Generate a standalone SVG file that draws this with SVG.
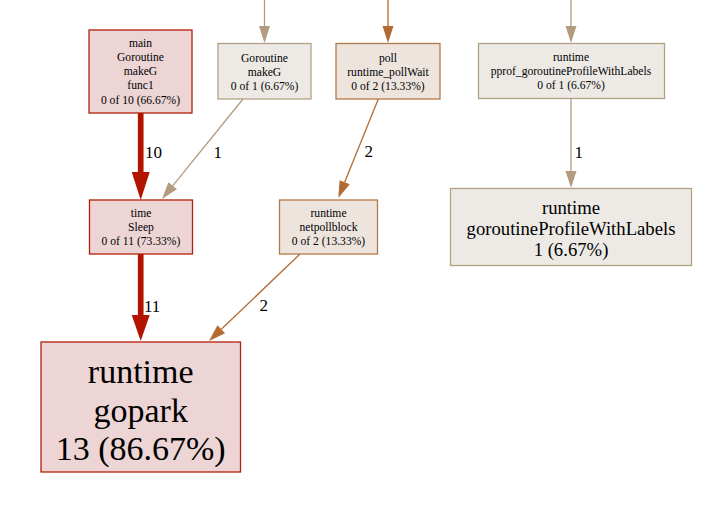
<svg xmlns="http://www.w3.org/2000/svg" width="703" height="513" viewBox="0 0 703 513">
<style>
  text { font-family: "Liberation Serif", "Times New Roman", serif; fill: #000; }
  .n text { text-anchor: middle; }
  .s { font-size: 11.6px; }
  .m { font-size: 18.7px; }
  .l { font-size: 34px; }
  .red rect { fill: #edd5d5; stroke: #b21f0a; stroke-width: 1.3; }
  .tan rect { fill: #edeae6; stroke: #b2a084; stroke-width: 1.3; }
  .org rect { fill: #ede4de; stroke: #b27848; stroke-width: 1.3; }
  .e-red { stroke: #b21400; fill: none; }
  .h-red { fill: #b21400; }
  .e-tan { stroke: #b29b7e; fill: none; stroke-width: 1.3; }
  .h-tan { fill: #b29b7e; }
  .e-org { stroke: #b26c33; fill: none; stroke-width: 1.3; }
  .h-org { fill: #b26c33; }
  .lbl { font-size: 17px; }
</style>
<rect width="703" height="513" fill="#ffffff"/>
<g id="connectors">
  <!-- incoming from top -->
  <line class="e-tan" x1="264.5" y1="0" x2="264.5" y2="27"/>
  <polygon class="h-tan" points="259,26 270,26 264.5,43"/>
  <line class="e-org" x1="388" y1="0" x2="388" y2="27"/>
  <polygon class="h-org" points="382.5,26 393.5,26 388,43"/>
  <line class="e-tan" x1="571" y1="0" x2="571" y2="27"/>
  <polygon class="h-tan" points="565.5,26 576.5,26 571,43"/>
  <!-- main -> Sleep -->
  <line class="e-red" x1="140.7" y1="113" x2="140.7" y2="173" stroke-width="5.7"/>
  <polygon class="h-red" points="131.7,172 149.7,172 140.7,200"/>
  <text class="lbl" x="145" y="157.5">10</text>
  <!-- Goroutine makeG -> Sleep -->
  <line class="e-tan" x1="243" y1="99" x2="172.7" y2="185.8"/>
  <polygon class="h-tan" points="176.97,189.26 168.43,182.34 162,199"/>
  <text class="lbl" x="213.5" y="157.5">1</text>
  <!-- poll -> netpollblock -->
  <line class="e-org" x1="378.3" y1="99" x2="344.67" y2="182.24"/>
  <polygon class="h-org" points="349.77,184.3 339.57,180.18 338.3,198"/>
  <text class="lbl" x="364.5" y="157">2</text>
  <!-- Sleep -> gopark -->
  <line class="e-red" x1="140.7" y1="254" x2="140.7" y2="316" stroke-width="5.7"/>
  <polygon class="h-red" points="131.7,315 149.7,315 140.7,341"/>
  <text class="lbl" x="144" y="311.5">11</text>
  <!-- netpollblock -> gopark -->
  <line class="e-org" x1="300" y1="254" x2="221.29" y2="329.25"/>
  <polygon class="h-org" points="225.09,333.23 217.49,325.27 209,341"/>
  <text class="lbl" x="259.5" y="311">2</text>
  <!-- pprof -> goroutineProfileWithLabels -->
  <line class="e-tan" x1="571" y1="98" x2="571" y2="172"/>
  <polygon class="h-tan" points="565.5,171 576.5,171 571,188"/>
  <text class="lbl" x="574.5" y="157.5">1</text>
</g>
<g id="node-main" class="n red">
  <rect x="89" y="30" width="103" height="83"/>
  <text class="s" x="140.5" y="46.8">main</text>
  <text class="s" x="140.5" y="61">Goroutine</text>
  <text class="s" x="140.5" y="75.2">makeG</text>
  <text class="s" x="140.5" y="89.4">func1</text>
  <text class="s" x="140.5" y="103.6">0 of 10 (66.67%)</text>
</g>
<g id="node-goroutine-makeG" class="n tan">
  <rect x="218" y="43.5" width="93" height="55.5"/>
  <text class="s" x="264.5" y="61.6">Goroutine</text>
  <text class="s" x="264.5" y="75.8">makeG</text>
  <text class="s" x="264.5" y="90">0 of 1 (6.67%)</text>
</g>
<g id="node-poll" class="n org">
  <rect x="336" y="43.5" width="104" height="55.5"/>
  <text class="s" x="388" y="61.6">poll</text>
  <text class="s" x="388" y="75.8">runtime_pollWait</text>
  <text class="s" x="388" y="90">0 of 2 (13.33%)</text>
</g>
<g id="node-pprof" class="n tan">
  <rect x="478.5" y="43.5" width="186" height="55"/>
  <text class="s" x="571" y="60.6">runtime</text>
  <text class="s" x="571" y="75">pprof_goroutineProfileWithLabels</text>
  <text class="s" x="571" y="89.4">0 of 1 (6.67%)</text>
</g>
<g id="node-sleep" class="n red">
  <rect x="89.5" y="200" width="103" height="54"/>
  <text class="s" x="141" y="216.8">time</text>
  <text class="s" x="141" y="231">Sleep</text>
  <text class="s" x="141" y="245.2">0 of 11 (73.33%)</text>
</g>
<g id="node-netpollblock" class="n org">
  <rect x="279.5" y="200" width="98" height="54"/>
  <text class="s" x="328.5" y="216.8">runtime</text>
  <text class="s" x="328.5" y="231">netpollblock</text>
  <text class="s" x="328.5" y="245.2">0 of 2 (13.33%)</text>
</g>
<g id="node-goroutineProfileWithLabels" class="n tan">
  <rect x="450.5" y="188.5" width="241" height="77"/>
  <text class="m" x="571" y="213.5">runtime</text>
  <text class="m" x="571" y="234.5">goroutineProfileWithLabels</text>
  <text class="m" x="571" y="255.5">1 (6.67%)</text>
</g>
<g id="node-gopark" class="n red">
  <rect x="41" y="342" width="199.5" height="130"/>
  <text class="l" x="140.7" y="382.5">runtime</text>
  <text class="l" x="140.7" y="421.5">gopark</text>
  <text class="l" x="140.7" y="460">13 (86.67%)</text>
</g>
</svg>
